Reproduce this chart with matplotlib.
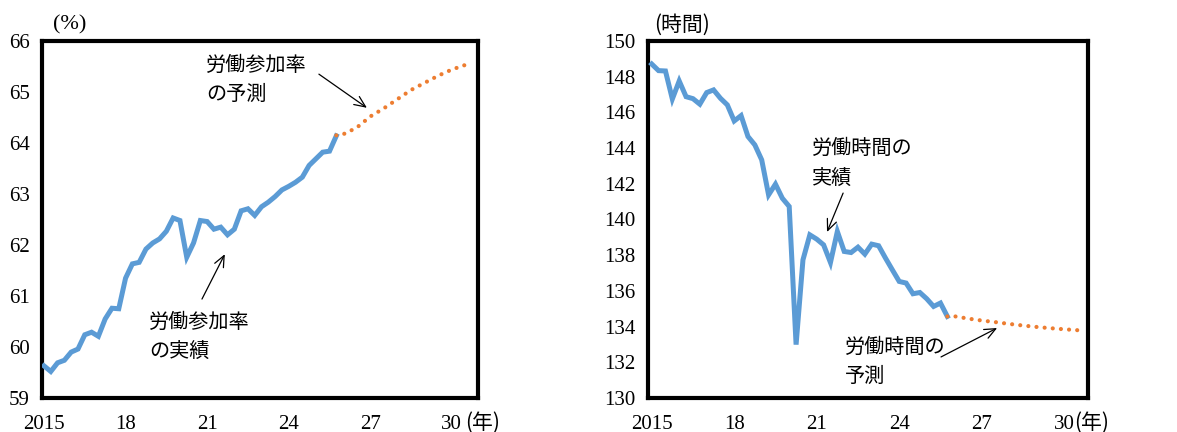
import matplotlib
matplotlib.use("Agg")
import matplotlib.pyplot as plt

# quarterly actuals, 2015Q1 - 2025Q4
years_actual = [2015 + i * 0.25 for i in range(44)]

participation = [
    59.63, 59.52, 59.69, 59.74, 59.90, 59.96, 60.24, 60.29,
    60.21, 60.55, 60.76, 60.75, 61.35, 61.63, 61.66, 61.92,
    62.04, 62.12, 62.27, 62.53, 62.48, 61.76, 62.04, 62.48,
    62.46, 62.31, 62.35, 62.20, 62.31, 62.67, 62.71, 62.58,
    62.75, 62.84, 62.95, 63.08, 63.15, 63.23, 63.33, 63.56,
    63.69, 63.82, 63.84, 64.14,
]

hours = [
    148.71, 148.34, 148.32, 146.75, 147.76, 146.88, 146.77, 146.46,
    147.11, 147.26, 146.79, 146.42, 145.52, 145.82, 144.65, 144.18,
    143.34, 141.38, 141.98, 141.19, 140.73, 132.99, 137.74, 139.14,
    138.90, 138.58, 137.59, 139.33, 138.21, 138.15, 138.45, 138.06,
    138.62, 138.53, 137.84, 137.18, 136.53, 136.44, 135.84, 135.91,
    135.56, 135.13, 135.32, 134.57,
]

# projections
years_part_fc = [2025.75, 2026.0, 2026.5, 2027.0, 2027.5, 2028.0, 2028.5, 2029.0, 2029.5, 2030.0, 2030.6]
participation_fc = [64.15, 64.17, 64.30, 64.52, 64.68, 64.86, 65.04, 65.18, 65.32, 65.44, 65.55]

years_hours_fc = [2025.75, 2026.0, 2026.5, 2027.0, 2027.5, 2028.0, 2028.5, 2029.0, 2029.5, 2030.0, 2030.75]
hours_fc = [134.57, 134.58, 134.45, 134.34, 134.25, 134.15, 134.06, 133.98, 133.91, 133.85, 133.77]

xticks = [2015, 2018, 2021, 2024, 2027, 2030]
xtick_labels = ["2015", "18", "21", "24", "27", "30"]

BLUE = "#5B9BD5"
ORANGE = "#ED7D31"
NUM_FONT = "Liberation Serif"
JP_FONT = ["Noto Sans CJK JP", "DejaVu Sans"]

fig = plt.figure(figsize=(11.77, 4.32), dpi=100)
ax1 = fig.add_axes([0.0361, 0.0787, 0.3700, 0.8264])
ax2 = fig.add_axes([0.5508, 0.0787, 0.3736, 0.8264])


def style_axes(ax, xlim, ylim, yticks):
    ax.set_xlim(*xlim)
    ax.set_ylim(*ylim)
    ax.set_xticks(xticks)
    ax.set_xticklabels(xtick_labels)
    ax.set_yticks(yticks)
    for s in ax.spines.values():
        s.set_linewidth(3)
        s.set_color("black")
    ax.tick_params(axis="both", length=0, labelsize=15)
    ax.tick_params(axis="x", pad=12)
    ax.tick_params(axis="y", pad=9)
    for lab in ax.get_xticklabels() + ax.get_yticklabels():
        lab.set_fontfamily(NUM_FONT)


def draw_series(ax, x, y, xf, yf):
    ax.plot(x, y, color=BLUE, lw=3.6, solid_joinstyle="miter", zorder=3)
    ax.plot(xf, yf, color=ORANGE, lw=3.0, linestyle=(0, (0.01, 1.95)),
            dash_capstyle="round", zorder=3)


def note(ax, text, xy, xytext, arrow_from):
    ax.text(xytext[0], xytext[1], text, fontsize=14.5, family=JP_FONT,
            ha="left", va="center", linespacing=1.5)
    ax.annotate("", xy=xy, xytext=arrow_from,
                arrowprops=dict(arrowstyle="->,head_length=0.8,head_width=0.35",
                                color="black", lw=0.9, shrinkA=0, shrinkB=0))


# left: labour force participation rate
style_axes(ax1, (2014.945, 2030.96), (59, 66), range(59, 67))
draw_series(ax1, years_actual, participation, years_part_fc, participation_fc)
note(ax1, "労働参加率\nの予測", (2026.875, 64.69), (2020.96, 65.24), (2025.11, 65.35))
note(ax1, "労働参加率\nの実績", (2021.65, 61.82), (2018.86, 60.19), (2020.81, 60.94))
ax1.text(2015.96, 1.045, "(%)", transform=ax1.get_xaxis_transform(),
         fontsize=16, family=NUM_FONT, ha="center", va="center")
ax1.text(2030.5, -0.07, "(年)", transform=ax1.get_xaxis_transform(),
         fontsize=15, family=JP_FONT, ha="left", va="center")

# right: hours worked
style_axes(ax2, (2014.876, 2030.865), (130, 150), range(130, 151, 2))
draw_series(ax2, years_actual, hours, years_hours_fc, hours_fc)
note(ax2, "労働時間の\n実績", (2021.375, 139.30), (2020.83, 143.14), (2021.96, 141.48))
note(ax2, "労働時間の\n予測", (2027.56, 133.92), (2022.03, 132.02), (2025.52, 132.30))
ax2.text(2016.1, 1.045, "(時間)", transform=ax2.get_xaxis_transform(),
         fontsize=15, family=JP_FONT, ha="center", va="center")
ax2.text(2030.35, -0.07, "(年)", transform=ax2.get_xaxis_transform(),
         fontsize=15, family=JP_FONT, ha="left", va="center")

fig.savefig("out.png", dpi=100)
